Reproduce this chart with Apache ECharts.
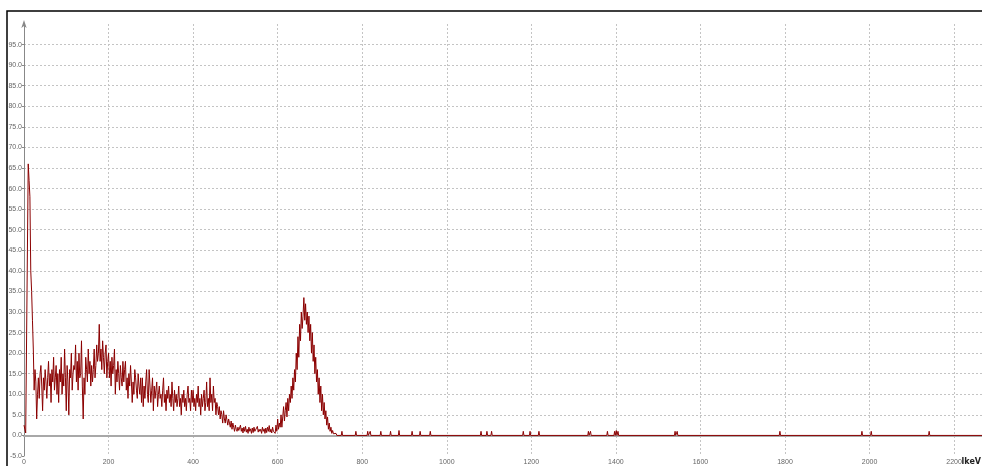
<!DOCTYPE html>
<html>
<head>
<meta charset="utf-8">
<script src="https://cdn.jsdelivr.net/npm/echarts@6/dist/echarts.min.js"></script>
<style>
  html, body { margin: 0; padding: 0; background: #fff; }
  #main { width: 982px; height: 466px; }
</style>
</head>
<body>
<div id="main"></div>
<script>
// spectrum, one count value every 2 keV starting at 0 keV
var channelWidth = 2;
var counts = [
  2.5, 1.5, 0.6, 0.5, 0.8, 66, 62, 58, 40, 35, 28, 21, 11, 16, 13, 4, 10, 14, 9, 15,
  17, 12, 6, 14, 11, 16, 13, 9, 14, 18, 12, 15, 8, 16, 13, 19, 11, 14, 17, 10,
  15, 8, 16, 13, 19, 10, 15, 12, 21, 14, 6, 17, 13, 5, 16, 14, 20, 11, 15, 17,
  16, 22, 13, 18, 11, 20, 14, 15, 23, 12, 4, 14, 10, 19, 16, 13, 21, 15, 18, 12,
  17, 13, 16, 21, 14, 17, 22, 18, 20, 27, 18, 21, 16, 23, 19, 15, 20, 22, 14, 18,
  20, 14, 18, 12, 19, 15, 17, 21, 10, 16, 13, 18, 15, 11, 17, 14, 12, 18, 13, 16,
  18, 11, 14, 9, 15, 12, 17, 13, 8, 13, 10, 16, 14, 11, 9, 15, 12, 10, 14, 8,
  14, 7, 12, 9, 13, 16, 10, 8, 16, 12, 8, 11, 14, 6, 12, 9, 11, 13, 7, 10,
  12, 9, 10, 7, 11, 14, 8, 10, 6, 11, 9, 12, 8, 10, 7, 13, 9, 6, 11, 8,
  10, 7, 9, 12, 7, 9, 5, 10, 8, 11, 7, 9, 6, 10, 12, 8, 9, 6, 11, 8,
  11, 7, 9, 6, 10, 8, 12, 7, 9, 5, 10, 7, 9, 11, 6, 8, 13, 7, 9, 6,
  14, 8, 10, 6, 12, 8, 9, 5, 8, 7, 5, 7, 4, 6, 5, 3, 6, 4, 3, 5,
  5, 2.5, 4, 3, 2, 3.5, 1.5, 3, 2, 1, 2.5, 1.5, 1, 2, 1.2, 0.8, 2.5, 1, 1.8, 0.6,
  2, 1, 2.2, 0.8, 1.5, 0.5, 2, 1, 1.6, 0.5, 1.8, 0.7, 2, 1, 1.4, 0.6, 2.2, 0.8, 1.5, 1,
  1.5, 0.5, 2, 1, 1.6, 0.5, 1.8, 0.7, 2, 1, 2.4, 0.8, 1.5, 0.6, 2, 1, 1.2, 0.5, 2.5, 1,
  4, 1.5, 3, 2, 5, 2, 4.5, 7, 3.5, 6, 8, 4.5, 9, 6, 10, 8, 12, 9, 14, 11,
  16, 13, 20, 16, 24, 19, 27, 23, 30, 26, 29, 33.5, 28, 32, 27, 30, 25, 29, 23, 27,
  20, 25, 18, 22, 15, 19, 13, 16, 10, 14, 8, 12, 6, 10, 5, 8, 4, 6, 2.5, 4.5,
  1.5, 3, 1, 2, 0.5, 1.2, 0.4, 0.8, 0.2, 0.5, 0, 0, 0
];
// isolated single counts in the high-energy tail (keV, counts)
var tailPeaks = [752, 785, 813, 819, 844, 867, 887, 918, 937, 961, 1081, 1095, 1106,
  1181, 1197, 1218, 1335, 1340, 1380, 1397, 1401, 1405, 1540, 1545, 1788, 1982, 2004, 2141];
var tailHeights = [1, 1, 1, 1, 1, 1, 1.2, 1, 1, 1, 1, 1, 1,
  1, 1, 1, 1, 1, 1, 1, 1.2, 1, 1, 1, 1, 1, 1, 1];
var energyMax = 2266;
var yTicks = { min: -5, max: 100, step: 5 };
var xTicks = { min: 0, step: 200 };

var seriesData = counts.map(function (v, i) { return [i * channelWidth, v]; });
tailPeaks.forEach(function (e, i) {
  seriesData.push([e - 1.5, 0], [e, tailHeights[i]], [e + 1.5, 0]);
});
seriesData.push([energyMax, 0]);

var chart = echarts.init(document.getElementById('main'));
var gridLine = { show: true, showMinLine: false, showMaxLine: false,
  lineStyle: { color: '#c4c4c4', type: [2, 2], width: 1 } };

chart.setOption({
  animation: false,
  backgroundColor: '#fff',
  grid: { left: 24, right: 0, top: 24, bottom: 10 },
  xAxis: {
    type: 'value',
    min: xTicks.min, max: energyMax, interval: xTicks.step,
    axisLine: { lineStyle: { color: '#a8a8a8', width: 2 } },
    axisTick: { show: false },
    axisLabel: { fontSize: 7, color: '#666', margin: 3, showMaxLabel: false, fontFamily: 'Liberation Sans',
      formatter: function (v) { return String(v); } },
    splitLine: gridLine
  },
  yAxis: {
    type: 'value',
    min: yTicks.min, max: yTicks.max, interval: yTicks.step,
    axisLine: { show: true, onZero: false, lineStyle: { color: '#888', width: 1 },
      symbol: ['none', 'arrow'], symbolSize: [4, 8], symbolOffset: [0, 4] },
    axisTick: { show: true, length: 2, lineStyle: { color: '#888' } },
    axisLabel: { fontSize: 7, color: '#666', margin: 2, showMaxLabel: false, fontFamily: 'Liberation Sans',
      formatter: function (v) { return v.toFixed(1); } },
    splitLine: gridLine
  },
  graphic: [
    { type: 'polyline', shape: { points: [[7, 466], [7, 11], [982, 11]] },
      style: { stroke: '#000', lineWidth: 1.5, fill: null } },
    { type: 'text', right: 1, bottom: 0,
      style: { text: 'lkeV', font: 'bold 8px DejaVu Sans', fill: '#222' } }
  ],
  series: [{
    type: 'line',
    data: seriesData,
    showSymbol: false,
    sampling: null,
    lineStyle: { color: '#8b0000', width: 1 },
    itemStyle: { color: '#8b0000' }
  }]
});
</script>
</body>
</html>
